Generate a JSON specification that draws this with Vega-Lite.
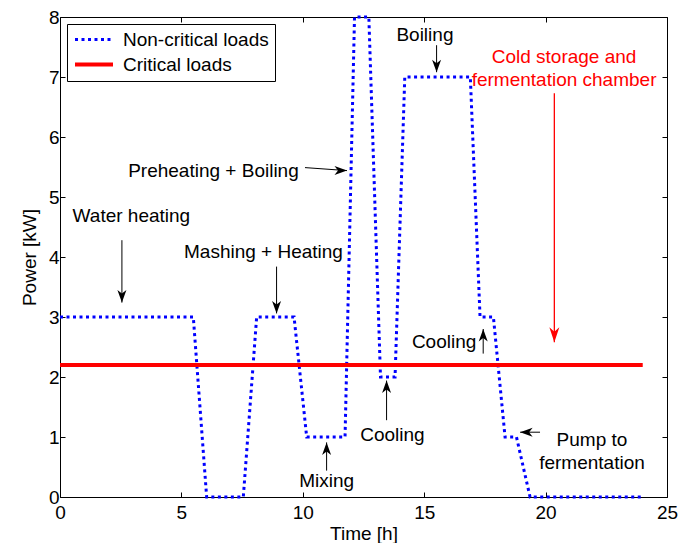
{
  "$schema": "https://vega.github.io/schema/vega-lite/v6.json",
  "width": 607,
  "height": 480,
  "autosize": {"type": "none"},
  "padding": {"left": 60, "top": 17, "right": 22, "bottom": 46},
  "background": "white",
  "config": {
    "font": "Liberation Sans",
    "view": {"stroke": "black", "strokeWidth": 1},
    "axis": {
      "domain": false,
      "grid": false,
      "tickColor": "black",
      "tickSize": -5,
      "tickWidth": 1,
      "labelFont": "Liberation Sans",
      "labelFontSize": 19,
      "labelColor": "black",
      "labelFlush": false,
      "labelOverlap": false,
      "titleFont": "Liberation Sans",
      "titleFontSize": 19,
      "titleFontWeight": "normal",
      "titleColor": "black"
    },
    "legend": {
      "orient": "top-left",
      "offset": 7,
      "padding": 6,
      "fillColor": "white",
      "strokeColor": "black",
      "symbolType": "stroke",
      "symbolSize": 1444,
      "clipHeight": 19,
      "labelFont": "Liberation Sans",
      "labelFontSize": 19,
      "labelColor": "black",
      "labelOffset": 8,
      "rowPadding": 5
    }
  },
  "datasets": {
    "loads": [
      {"series": "Non-critical loads", "t": 0, "p": 3},
      {"series": "Non-critical loads", "t": 5.49, "p": 3},
      {"series": "Non-critical loads", "t": 6.04, "p": 0},
      {"series": "Non-critical loads", "t": 7.55, "p": 0},
      {"series": "Non-critical loads", "t": 8.1, "p": 3},
      {"series": "Non-critical loads", "t": 9.64, "p": 3},
      {"series": "Non-critical loads", "t": 10.16, "p": 1},
      {"series": "Non-critical loads", "t": 11.74, "p": 1},
      {"series": "Non-critical loads", "t": 12.13, "p": 8},
      {"series": "Non-critical loads", "t": 12.72, "p": 8},
      {"series": "Non-critical loads", "t": 13.2, "p": 2},
      {"series": "Non-critical loads", "t": 13.8, "p": 2},
      {"series": "Non-critical loads", "t": 14.2, "p": 7},
      {"series": "Non-critical loads", "t": 16.9, "p": 7},
      {"series": "Non-critical loads", "t": 17.3, "p": 3},
      {"series": "Non-critical loads", "t": 17.85, "p": 3},
      {"series": "Non-critical loads", "t": 18.33, "p": 1},
      {"series": "Non-critical loads", "t": 18.8, "p": 1},
      {"series": "Non-critical loads", "t": 19.36, "p": 0},
      {"series": "Non-critical loads", "t": 24, "p": 0},
      {"series": "Critical loads", "t": 0, "p": 2.2},
      {"series": "Critical loads", "t": 24, "p": 2.2}
    ],
    "notes": [
      {"label": "Water heating", "t": 2.94, "p": 4.68, "kind": "process"},
      {"label": "Mashing + Heating", "t": 8.38, "p": 4.08, "kind": "process"},
      {"label": "Preheating + Boiling", "t": 6.32, "p": 5.43, "kind": "process"},
      {"label": "Mixing", "t": 10.98, "p": 0.275, "kind": "process"},
      {"label": "Cooling", "t": 13.69, "p": 1.03, "kind": "process"},
      {"label": "Cooling", "t": 15.82, "p": 2.58, "kind": "process"},
      {"label": "Pump to\nfermentation", "t": 21.91, "p": 0.95, "kind": "process"},
      {"label": "Boiling", "t": 15.03, "p": 7.7, "kind": "process"},
      {"label": "Cold storage and\nfermentation chamber", "t": 20.76, "p": 7.33, "kind": "chamber"}
    ],
    "arrows": [
      {"note": "Water heating", "t": 2.55, "p": 4.28, "t2": 2.55, "p2": 3.24, "dir": "down", "kind": "process"},
      {"note": "Mashing + Heating", "t": 8.92, "p": 3.84, "t2": 8.92, "p2": 3.06, "dir": "down", "kind": "process"},
      {"note": "Preheating + Boiling", "t": 10.09, "p": 5.49, "t2": 11.82, "p2": 5.44, "dir": "right", "kind": "process"},
      {"note": "Mixing", "t": 10.98, "p": 0.44, "t2": 10.98, "p2": 0.91, "dir": "up", "kind": "process"},
      {"note": "Cooling", "t": 13.45, "p": 1.28, "t2": 13.45, "p2": 1.94, "dir": "up", "kind": "process"},
      {"note": "Cooling", "t": 17.43, "p": 2.39, "t2": 17.43, "p2": 2.8, "dir": "up", "kind": "process"},
      {"note": "Pump to fermentation", "t": 19.77, "p": 1.08, "t2": 18.95, "p2": 1.08, "dir": "left", "kind": "process"},
      {"note": "Boiling", "t": 15.51, "p": 7.53, "t2": 15.51, "p2": 7.08, "dir": "down", "kind": "process"},
      {"note": "Cold storage and fermentation chamber", "t": 20.36, "p": 6.73, "t2": 20.36, "p2": 2.58, "dir": "down", "kind": "chamber"}
    ]
  },
  "resolve": {"axis": {"x": "independent", "y": "independent"}},
  "layer": [
    {
      "data": {"name": "loads"},
      "mark": {"type": "line", "strokeCap": "butt", "interpolate": "linear"},
      "encoding": {
        "x": {
          "field": "t", "type": "quantitative",
          "scale": {"domain": [0, 25], "nice": false, "zero": false},
          "axis": {"orient": "bottom", "title": "Time [h]", "values": [0, 5, 10, 15, 20, 25], "labelPadding": 11, "titlePadding": 2}
        },
        "y": {
          "field": "p", "type": "quantitative",
          "scale": {"domain": [0, 8], "nice": false},
          "axis": {"orient": "left", "title": "Power [kW]", "values": [0, 1, 2, 3, 4, 5, 6, 7, 8], "labelPadding": 6, "titlePadding": 9}
        },
        "color": {
          "field": "series", "type": "nominal",
          "scale": {"domain": ["Non-critical loads", "Critical loads"], "range": ["#0000ff", "#ff0000"]},
          "legend": {"title": null}
        },
        "strokeDash": {
          "field": "series", "type": "nominal",
          "scale": {"domain": ["Non-critical loads", "Critical loads"], "range": [[3, 3.5], [1, 0]]},
          "legend": {"title": null}
        },
        "strokeWidth": {
          "field": "series", "type": "nominal",
          "scale": {"domain": ["Non-critical loads", "Critical loads"], "range": [3, 4]},
          "legend": {"title": null}
        }
      }
    },
    {
      "data": {"name": "notes"},
      "transform": [{"filter": "datum.kind == 'process'"}],
      "mark": {"type": "text", "font": "Liberation Sans", "fontSize": 19, "align": "center", "baseline": "middle", "lineBreak": "\n", "lineHeight": 22.5, "color": "black"},
      "encoding": {
        "x": {
          "field": "t", "type": "quantitative",
          "scale": {"domain": [0, 25], "nice": false, "zero": false},
          "axis": {"orient": "top", "title": null, "labels": false, "values": [0, 5, 10, 15, 20, 25]}
        },
        "y": {
          "field": "p", "type": "quantitative",
          "scale": {"domain": [0, 8], "nice": false},
          "axis": {"orient": "right", "title": null, "labels": false, "values": [0, 1, 2, 3, 4, 5, 6, 7, 8]}
        },
        "text": {"field": "label", "type": "nominal"}
      }
    },
    {
      "data": {"name": "notes"},
      "transform": [{"filter": "datum.kind == 'chamber'"}],
      "mark": {"type": "text", "font": "Liberation Sans", "fontSize": 19, "align": "center", "baseline": "middle", "lineBreak": "\n", "lineHeight": 23, "color": "#ff0000"},
      "encoding": {
        "x": {"field": "t", "type": "quantitative", "scale": {"domain": [0, 25], "nice": false, "zero": false}, "axis": null},
        "y": {"field": "p", "type": "quantitative", "scale": {"domain": [0, 8], "nice": false}, "axis": null},
        "text": {"field": "label", "type": "nominal"}
      }
    },
    {
      "data": {"name": "arrows"},
      "transform": [{"filter": "datum.kind == 'process'"}],
      "mark": {"type": "rule", "color": "black", "strokeWidth": 1},
      "encoding": {
        "x": {"field": "t", "type": "quantitative", "scale": {"domain": [0, 25], "nice": false, "zero": false}, "axis": null},
        "y": {"field": "p", "type": "quantitative", "scale": {"domain": [0, 8], "nice": false}, "axis": null},
        "x2": {"field": "t2"},
        "y2": {"field": "p2"}
      }
    },
    {
      "data": {"name": "arrows"},
      "transform": [{"filter": "datum.kind == 'process' && datum.dir == 'down'"}],
      "mark": {"type": "point", "shape": "M0,0L-0.9,-2.5L0,-1.8L0.9,-2.5Z", "size": 100, "angle": 0, "filled": true, "opacity": 1, "color": "black", "strokeWidth": 0},
      "encoding": {
        "x": {"field": "t2", "type": "quantitative", "scale": {"domain": [0, 25], "nice": false, "zero": false}, "axis": null},
        "y": {"field": "p2", "type": "quantitative", "scale": {"domain": [0, 8], "nice": false}, "axis": null}
      }
    },
    {
      "data": {"name": "arrows"},
      "transform": [{"filter": "datum.kind == 'process' && datum.dir == 'up'"}],
      "mark": {"type": "point", "shape": "M0,0L-0.9,-2.5L0,-1.8L0.9,-2.5Z", "size": 100, "angle": 180, "filled": true, "opacity": 1, "color": "black", "strokeWidth": 0},
      "encoding": {
        "x": {"field": "t2", "type": "quantitative", "scale": {"domain": [0, 25], "nice": false, "zero": false}, "axis": null},
        "y": {"field": "p2", "type": "quantitative", "scale": {"domain": [0, 8], "nice": false}, "axis": null}
      }
    },
    {
      "data": {"name": "arrows"},
      "transform": [{"filter": "datum.kind == 'process' && datum.dir == 'right'"}],
      "mark": {"type": "point", "shape": "M0,0L-0.9,-2.5L0,-1.8L0.9,-2.5Z", "size": 100, "angle": 270, "filled": true, "opacity": 1, "color": "black", "strokeWidth": 0},
      "encoding": {
        "x": {"field": "t2", "type": "quantitative", "scale": {"domain": [0, 25], "nice": false, "zero": false}, "axis": null},
        "y": {"field": "p2", "type": "quantitative", "scale": {"domain": [0, 8], "nice": false}, "axis": null}
      }
    },
    {
      "data": {"name": "arrows"},
      "transform": [{"filter": "datum.kind == 'process' && datum.dir == 'left'"}],
      "mark": {"type": "point", "shape": "M0,0L-0.9,-2.5L0,-1.8L0.9,-2.5Z", "size": 100, "angle": 90, "filled": true, "opacity": 1, "color": "black", "strokeWidth": 0},
      "encoding": {
        "x": {"field": "t2", "type": "quantitative", "scale": {"domain": [0, 25], "nice": false, "zero": false}, "axis": null},
        "y": {"field": "p2", "type": "quantitative", "scale": {"domain": [0, 8], "nice": false}, "axis": null}
      }
    },
    {
      "data": {"name": "arrows"},
      "transform": [{"filter": "datum.kind == 'chamber'"}],
      "mark": {"type": "rule", "color": "#ff0000", "strokeWidth": 1.3},
      "encoding": {
        "x": {"field": "t", "type": "quantitative", "scale": {"domain": [0, 25], "nice": false, "zero": false}, "axis": null},
        "y": {"field": "p", "type": "quantitative", "scale": {"domain": [0, 8], "nice": false}, "axis": null},
        "x2": {"field": "t2"},
        "y2": {"field": "p2"}
      }
    },
    {
      "data": {"name": "arrows"},
      "transform": [{"filter": "datum.kind == 'chamber'"}],
      "mark": {"type": "point", "shape": "M0,0L-1,-3L0,-2.1L1,-3Z", "size": 100, "angle": 0, "filled": true, "opacity": 1, "color": "#ff0000", "strokeWidth": 0},
      "encoding": {
        "x": {"field": "t2", "type": "quantitative", "scale": {"domain": [0, 25], "nice": false, "zero": false}, "axis": null},
        "y": {"field": "p2", "type": "quantitative", "scale": {"domain": [0, 8], "nice": false}, "axis": null}
      }
    }
  ]
}
